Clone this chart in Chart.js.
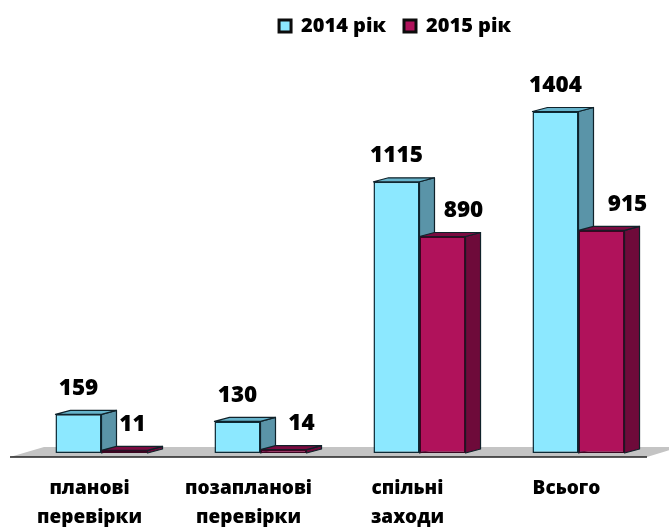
<!DOCTYPE html>
<html>
<head>
<meta charset="utf-8">
<title>Перевірки</title>
<script src="https://cdn.jsdelivr.net/npm/chart.js@4"></script>
<style>
    html, body { margin: 0; padding: 0; background: #fff; }
    #box { position: relative; width: 669px; height: 527px; }
</style>
</head>
<body>
<div id="box"><canvas id="barChart"></canvas></div>
<script>
const categories = [["планові", "перевірки"], ["позапланові", "перевірки"], ["спільні", "заходи"], ["Всього", ""]];
const series2014 = [159, 130, 1115, 1404];
const series2015 = [11, 14, 890, 915];

const FONT = "'Open Sans', sans-serif";
const DEPTH_X = 15;
const DEPTH_Y = 4;
// the value labels of the second series sit to the right of the bars
const labelShift = [[0, 0, 0, 0], [8, 18, 21, 26]];

const sideColors = ["#5A94A8", "#6E0A3A"];
const topColors = ["#66B4CC", "#7B0B40"];

const floorPlugin = {
    id: "floor",
    beforeDatasetsDraw(chart) {
        const ctx = chart.ctx;
        const y = chart.scales.y.getPixelForValue(0);
        ctx.save();
        ctx.fillStyle = "#C4C4C4";
        ctx.beginPath();
        ctx.moveTo(10, y + 4);
        ctx.lineTo(647, y + 4);
        ctx.lineTo(680, y - 6);
        ctx.lineTo(44, y - 6);
        ctx.closePath();
        ctx.fill();
        ctx.strokeStyle = "#222";
        ctx.lineWidth = 1.5;
        ctx.beginPath();
        ctx.moveTo(10, y + 4);
        ctx.lineTo(647, y + 4);
        ctx.stroke();
        ctx.restore();
    }
};

const box3dPlugin = {
    id: "box3d",
    beforeDatasetsDraw(chart) {
        const ctx = chart.ctx;
        ctx.save();
        ctx.lineWidth = 1.2;
        ctx.lineJoin = "round";
        ctx.strokeStyle = "#10222a";
        chart.data.datasets.forEach((ds, i) => {
            chart.getDatasetMeta(i).data.forEach((bar) => {
                const r = bar.x + bar.width / 2;
                const l = bar.x - bar.width / 2;
                ctx.fillStyle = sideColors[i];
                ctx.beginPath();
                ctx.moveTo(r, bar.y);
                ctx.lineTo(r + DEPTH_X, bar.y - DEPTH_Y);
                ctx.lineTo(r + DEPTH_X, bar.base - DEPTH_Y);
                ctx.lineTo(r, bar.base);
                ctx.closePath();
                ctx.fill();
                ctx.stroke();
                ctx.fillStyle = topColors[i];
                ctx.beginPath();
                ctx.moveTo(l, bar.y);
                ctx.lineTo(l + DEPTH_X, bar.y - DEPTH_Y);
                ctx.lineTo(r + DEPTH_X, bar.y - DEPTH_Y);
                ctx.lineTo(r, bar.y);
                ctx.closePath();
                ctx.fill();
                ctx.stroke();
            });
        });
        ctx.restore();
    }
};

const valueLabelPlugin = {
    id: "valueLabels",
    afterDatasetsDraw(chart) {
        const ctx = chart.ctx;
        ctx.save();
        ctx.font = "800 22.5px " + FONT;
        ctx.fillStyle = "#000";
        ctx.textAlign = "center";
        ctx.textBaseline = "middle";
        chart.data.datasets.forEach((ds, i) => {
            chart.getDatasetMeta(i).data.forEach((bar, j) => {
                ctx.fillText(ds.data[j], bar.x + labelShift[i][j], bar.y - 26);
            });
        });
        ctx.restore();
    }
};

// the legend is centred over the right part of the picture, not the canvas
const legendShiftPlugin = {
    id: "legendShift",
    afterLayout(chart) {
        chart.legend.left += 55;
        chart.legend.right += 55;
        chart.legend.top -= 2;
        chart.legend.bottom -= 2;
    }
};

document.addEventListener("DOMContentLoaded", function () {
    const ctx = document.getElementById("barChart").getContext("2d");
    new Chart(ctx, {
        type: "bar",
        data: {
            labels: categories,
            datasets: [
                { label: "2014 рік", data: series2014, backgroundColor: "#8CE8FF", borderColor: "#0c2a36", borderWidth: 1.5, borderSkipped: false },
                { label: "2015 рік", data: series2015, backgroundColor: "#B0125B", borderColor: "#3a0520", borderWidth: 1.5, borderSkipped: false }
            ]
        },
        options: {
            responsive: true,
            maintainAspectRatio: false,
            animation: false,
            layout: { padding: { left: 22, right: 11, top: 0, bottom: 0 } },
            datasets: { bar: { barPercentage: 1, categoryPercentage: 0.579 } },
            scales: {
                x: {
                    grid: { display: false },
                    border: { display: false },
                    afterFit(scale) { scale.height = 74; },
                    ticks: { color: "#000", padding: 13, labelOffset: -12, maxRotation: 0, font: { family: FONT, size: 19, weight: "800", lineHeight: 1.52 } }
                },
                y: { display: false, min: 0, max: 1665 }
            },
            plugins: {
                tooltip: { enabled: false },
                legend: {
                    position: "top",
                    labels: {
                        boxWidth: 12,
                        boxHeight: 12,
                        padding: 18,
                        color: "#000",
                        font: { family: FONT, size: 20, weight: "800" },
                        generateLabels(chart) {
                            return Chart.defaults.plugins.legend.labels.generateLabels(chart).map((item) => {
                                item.lineWidth = 3;
                                item.strokeStyle = "#0c0c0c";
                                return item;
                            });
                        }
                    }
                }
            }
        },
        plugins: [floorPlugin, box3dPlugin, valueLabelPlugin, legendShiftPlugin]
    });
});
</script>
</body>
</html>
